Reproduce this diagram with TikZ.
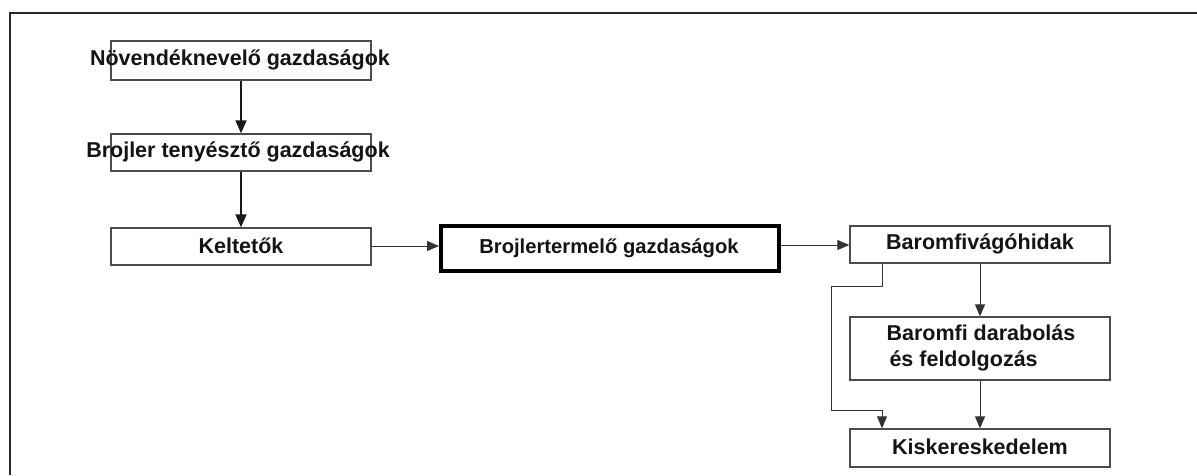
\documentclass[tikz,border=0pt]{standalone}
\usepackage{fontspec}
\setmainfont{Liberation Sans}
\usetikzlibrary{arrows.meta}
\begin{document}
\begin{tikzpicture}[x=1pt,y=-1pt,
  box/.style={draw=black!70,line width=1.3pt,fill=white,inner sep=0pt,minimum width=260pt,minimum height=#1},
  box/.default=37pt,
  txt/.style={font=\fontsize{21.5}{25}\selectfont\bfseries,text=black!92},
  arr/.style={-{Triangle[length=13pt,width=11pt]},line width=1.4pt,black!90},
  thin/.style={-{Triangle[length=12pt,width=10pt]},line width=0.9pt,black!80}]
\useasboundingbox (0,0) rectangle (1197,475);
\draw[line width=2pt,black!85] (10,475) -- (10,13) -- (1197,13);
% left column
\node[box=39pt] (b1) at (241,60.5) {};
\node[txt] (t1) at (240,60) {Növendéknevelő gazdaságok};
\node[box] (b2) at (241,152.5) {};
\node[txt] (t2) at (238,152) {Brojler tenyésztő gazdaságok};
\node[box] (b3) at (241,246.5) {};
\node[txt] (t3) at (241,246) {Keltetők};
% main
\node[draw=black,line width=4pt,fill=white,minimum width=338pt,minimum height=45pt,inner sep=0pt] (b4) at (610,248.5) {};
\node[txt,font=\fontsize{20.2}{24}\selectfont\bfseries] (t4) at (609,248) {Brojlertermelő gazdaságok};
% right column
\node[box] (b5) at (980,244.5) {};
\node[txt] (t5) at (980,244) {Baromfivágóhidak};
\node[box=63pt] (b6) at (980,348.5) {};
\node[txt,align=left,anchor=west,font=\fontsize{21.5}{26}\selectfont\bfseries] (t6) at (883,348) {Baromfi darabolás\\\hspace{3pt}és feldolgozás};
\node[box=38pt] (b7) at (980,448) {};
\node[txt] (t7) at (980,447) {Kiskereskedelem};
% connectors
\draw[arr] (b1.south) -- (b2.north);
\draw[arr] (b2.south) -- (b3.north);
\draw[thin] (b3.east |- 0,246) -- (b4.west |- 0,246);
\draw[thin] (b4.east |- 0,245) -- (b5.west |- 0,245);
\draw[thin] (b5.south) -- (b6.north);
\draw[thin] (b6.south) -- (b7.north);
\coordinate (e1) at (882,286);
\coordinate (e2) at (831,286);
\coordinate (e3) at (831,410);
\coordinate (e4) at (882,410);
\draw[thin] (b5.south -| e1) -- (e1) -- (e2) -- (e3) -- (e4) -- (b7.north -| e4);
\end{tikzpicture}
\end{document}
